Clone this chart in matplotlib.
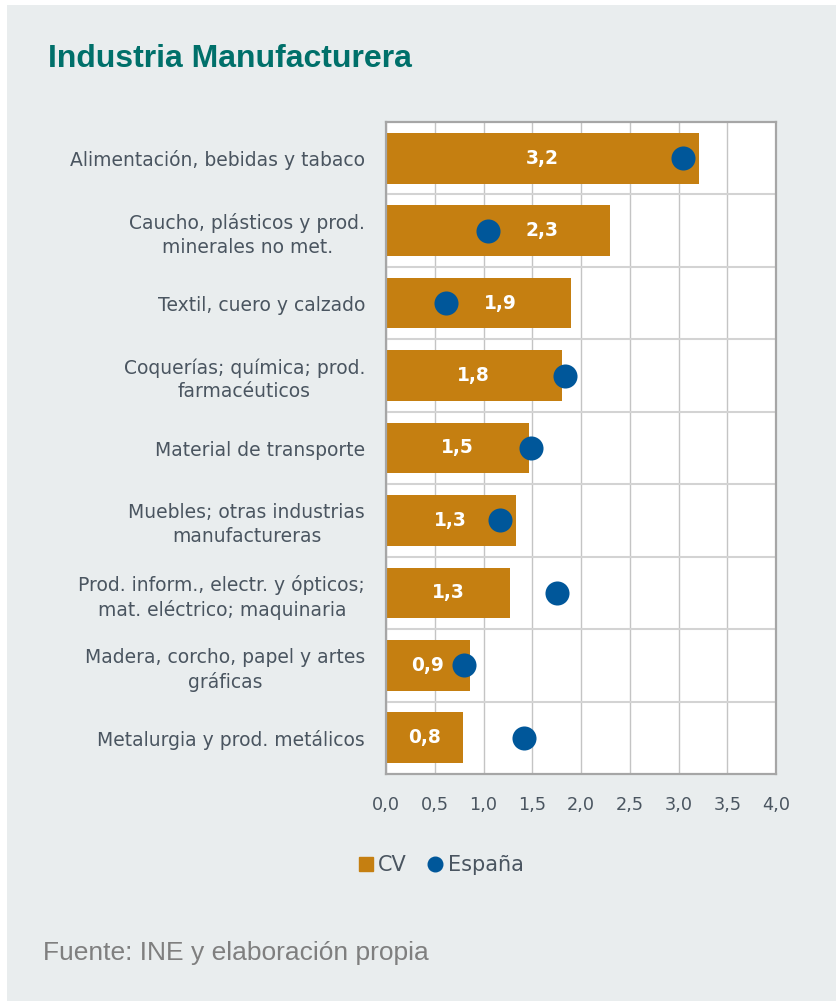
import matplotlib
matplotlib.use("Agg")
import matplotlib.pyplot as plt
from matplotlib.lines import Line2D
from matplotlib.patches import Rectangle
from matplotlib.ticker import FixedLocator

# ---------------- data ----------------
categories = [
    "Alimentación, bebidas y tabaco",
    "Caucho, plásticos y prod.\nminerales no met.",
    "Textil, cuero y calzado",
    "Coquerías; química; prod.\nfarmacéuticos",
    "Material de transporte",
    "Muebles; otras industrias\nmanufactureras",
    "Prod. inform., electr. y ópticos;\nmat. eléctrico; maquinaria",
    "Madera, corcho, papel y artes\ngráficas",
    "Metalurgia y prod. metálicos",
]
cv = [3.21, 2.30, 1.90, 1.80, 1.47, 1.33, 1.27, 0.86, 0.79]
espana = [3.05, 1.05, 0.62, 1.84, 1.49, 1.17, 1.75, 0.80, 1.42]
cv_labels = ["3,2", "2,3", "1,9", "1,8", "1,5", "1,3", "1,3", "0,9", "0,8"]
xticks = [0.0, 0.5, 1.0, 1.5, 2.0, 2.5, 3.0, 3.5, 4.0]
xtick_labels = ["0,0", "0,5", "1,0", "1,5", "2,0", "2,5", "3,0", "3,5", "4,0"]
series_names = ["CV", "España"]
title = "Industria Manufacturera"
source = "Fuente: INE y elaboración propia"

# ---------------- style ----------------
BG = "#e9edee"
BAR = "#c57f11"
DOT = "#00579a"
TXT = "#4a5560"
TITLE_C = "#00706a"

W, H = 836, 1001
fig = plt.figure(figsize=(W / 100, H / 100), dpi=100, facecolor="white")
fig.patches.append(Rectangle((7 / W, 0), 1, 1 - 5 / H, transform=fig.transFigure,
                             facecolor=BG, edgecolor="none", zorder=-10))

ax = fig.add_axes([386 / W, 1 - 774 / H, 390 / W, 652 / H])
ax.set_facecolor("white")

y = list(range(len(categories)))
ax.barh(y, cv, height=0.7, color=BAR, zorder=2)
ax.scatter(espana, y, s=300, color=DOT, zorder=4, linewidths=0)

for yi, v, d, lab in zip(y, cv, espana, cv_labels):
    xl = v / 2
    if abs(d - xl) < 0.35:
        xl = d + 0.55
    ax.text(xl, yi, lab, ha="center", va="center", color="white",
            fontsize=13.4, fontweight="bold", family="DejaVu Sans", zorder=5)

ax.set_xlim(0, 4.0)
ax.set_ylim(len(categories) - 0.5, -0.5)
ax.xaxis.set_major_locator(FixedLocator(xticks))
ax.set_xticklabels(xtick_labels)
ax.set_yticks(y)
ax.set_yticklabels(categories)
ax.yaxis.set_minor_locator(FixedLocator([i + 0.5 for i in y[:-1]]))

ax.grid(axis="x", which="major", color="#c4c4c4", linewidth=1.0, zorder=0)
ax.grid(axis="y", which="minor", color="#d3d3d3", linewidth=1.5, zorder=0)
ax.set_axisbelow(True)

for sp in ax.spines.values():
    sp.set_color("#a6a6a6")
    sp.set_linewidth(1.6)

ax.tick_params(axis="both", which="both", length=0)
ax.tick_params(axis="y", pad=15)
ax.tick_params(axis="x", pad=16)
for t in ax.get_yticklabels():
    t.set_fontsize(13.5)
    t.set_color(TXT)
    t.set_multialignment("center")
    t.set_linespacing(1.3)
for t in ax.get_xticklabels():
    t.set_fontsize(12.7)
    t.set_color(TXT)

# legend
handles = [
    Line2D([], [], marker="s", linestyle="none", markersize=9.5, color=BAR),
    Line2D([], [], marker="o", linestyle="none", markersize=10.5, color=DOT),
]
fig.legend(handles, series_names, loc="center", bbox_to_anchor=(441 / W, 1 - 865 / H),
           ncol=2, frameon=False, handlelength=0.7, handletextpad=0.25,
           columnspacing=1.0, prop={"size": 15}, labelcolor=TXT)

fig.text(48 / W, 1 - 59 / H, title, ha="left", va="center", color=TITLE_C,
         fontsize=23, fontweight="bold", family="Liberation Sans")
fig.text(43 / W, 1 - 953 / H, source, ha="left", va="center", color="#7f7f7f",
         fontsize=19, family="Liberation Sans")

fig.savefig("out.png", dpi=100, facecolor=fig.get_facecolor())
